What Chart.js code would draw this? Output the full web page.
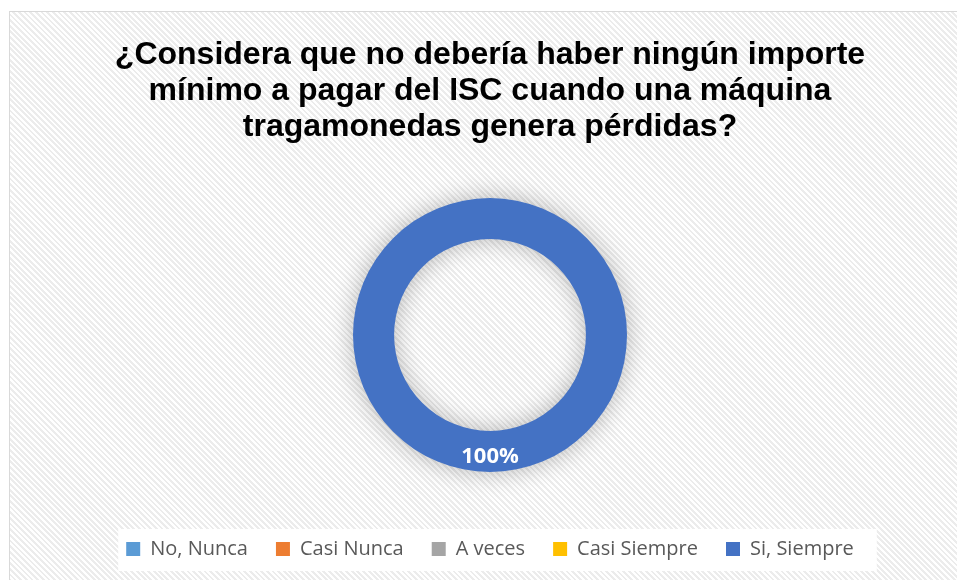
<!DOCTYPE html>
<html>
<head>
<meta charset="utf-8">
<script src="https://cdn.jsdelivr.net/npm/chart.js@4.4.1/dist/chart.umd.min.js"></script>
<style>
    html, body { margin: 0; padding: 0; background: #fff; overflow: hidden; }
    #panel {
        position: absolute; left: 9px; top: 11px; width: 962px; height: 580px;
        border: 1px solid #d9d9d9; box-sizing: border-box;
        background: repeating-linear-gradient(45deg, #ffffff 0px, #ffffff 2px, #ececec 2px, #ececec 4px);
    }
    #wrap { position: absolute; left: 9px; top: 11px; width: 962px; height: 569px; }
</style>
</head>
<body>
<div id="panel"></div>
<div id="wrap"><canvas id="encuestaChart"></canvas></div>
<script>
// Datos de la encuesta
const titleLines = [
    "¿Considera que no debería haber ningún importe",
    "mínimo a pagar del ISC cuando una máquina",
    "tragamonedas genera pérdidas?"
];
const categorias = ["No, Nunca", "Casi Nunca", "A veces", "Casi Siempre", "Si, Siempre"];
const porcentajes = [0, 0, 0, 0, 100];
const colores = ["#5B9BD5", "#ED7D31", "#A5A5A5", "#FFC000", "#4472C4"];

// fondo blanco detras de la leyenda
const legendBackground = {
    id: 'legendBackground',
    beforeDraw(chart) {
        const boxes = chart.legend && chart.legend.legendHitBoxes;
        if (!boxes || !boxes.length) return;
        const left = Math.min(...boxes.map(b => b.left));
        const right = Math.max(...boxes.map(b => b.left + b.width));
        const top = Math.min(...boxes.map(b => b.top));
        const bottom = Math.max(...boxes.map(b => b.top + b.height));
        const ctx = chart.ctx;
        ctx.save();
        ctx.fillStyle = '#ffffff';
        ctx.fillRect(left - 8, top - 10, right - left + 31, bottom - top + 22);
        ctx.restore();
    }
};

// sombra suave del anillo
const ringShadow = {
    id: 'ringShadow',
    beforeDatasetsDraw(chart) {
        const ctx = chart.ctx;
        ctx.save();
        ctx.shadowColor = 'rgba(0,0,0,0.28)';
        ctx.shadowBlur = 24;
    },
    afterDatasetsDraw(chart) {
        chart.ctx.restore();
    }
};

// etiquetas de porcentaje
const pctLabels = {
    id: 'pctLabels',
    afterDatasetsDraw(chart) {
        const ctx = chart.ctx;
        const meta = chart.getDatasetMeta(0);
        ctx.save();
        ctx.fillStyle = '#ffffff';
        ctx.font = 'bold 22px "Open Sans"';
        ctx.textAlign = 'center';
        ctx.textBaseline = 'middle';
        meta.data.forEach((arc, i) => {
            const v = porcentajes[i];
            if (!v) return;
            const p = arc.tooltipPosition();
            ctx.fillText(v + '%', p.x, p.y + 5);
        });
        ctx.restore();
    }
};

const ctx = document.getElementById('encuestaChart').getContext('2d');
new Chart(ctx, {
    type: 'doughnut',
    data: {
        labels: categorias,
        datasets: [{
            data: porcentajes,
            backgroundColor: colores,
            borderWidth: 0,
            radius: 137,
            cutout: '70%'
        }]
    },
    options: {
        responsive: true,
        maintainAspectRatio: false,
        animation: false,
        layout: { padding: { top: 0, bottom: 11 } },
        plugins: {
            title: {
                display: true,
                text: titleLines,
                color: '#000000',
                font: { family: '"Liberation Sans", Arial', size: 32, weight: 'bold', lineHeight: 1.125 },
                padding: { top: 26, bottom: 14 }
            },
            legend: {
                position: 'bottom',
                labels: {
                    boxWidth: 14,
                    boxHeight: 14,
                    padding: 28,
                    color: '#595959',
                    font: { family: '"Open Sans"', size: 20 }
                }
            },
            tooltip: { enabled: false }
        }
    },
    plugins: [legendBackground, ringShadow, pctLabels]
});
</script>
</body>
</html>
